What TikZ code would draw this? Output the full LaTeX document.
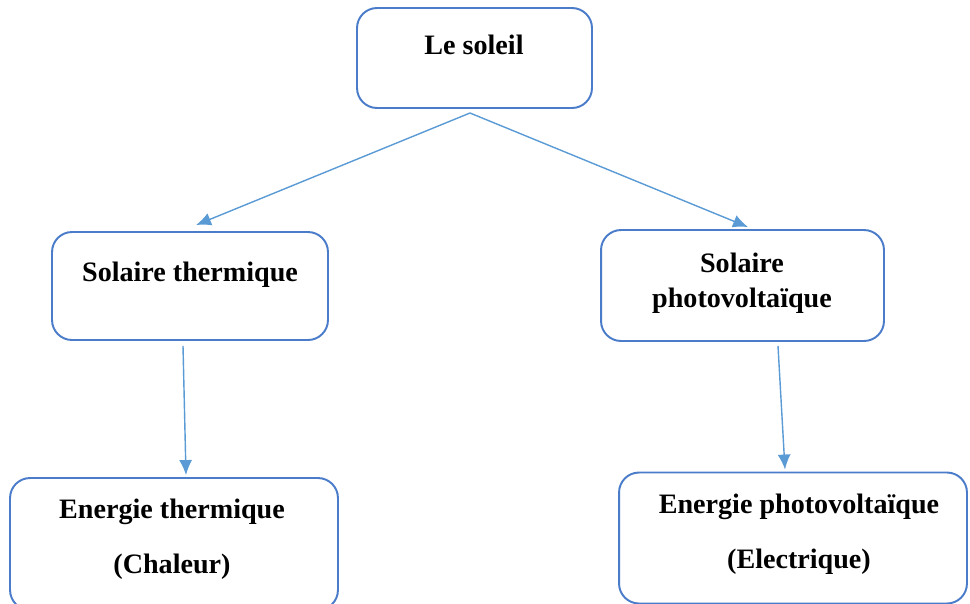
\documentclass[tikz,border=0pt]{standalone}
\usepackage{fontspec}
\setmainfont{Liberation Serif}
\usetikzlibrary{arrows.meta}
\definecolor{boxblue}{HTML}{4A7CC9}
\definecolor{arrblue}{HTML}{5B9BD5}
\tikzset{>={Latex[length=3mm,width=2.6mm]}}
\tikzset{
  box/.style={draw=boxblue, line width=1.1pt, rounded corners=4mm, fill=white},
  txt/.style={align=center, font=\fontsize{16}{20}\selectfont\bfseries},
  arr/.style={->, draw=arrblue, fill=arrblue, line width=0.8pt}
}

\begin{document}
\begin{tikzpicture}[x=0.02cm, y=-0.02cm]
        \useasboundingbox (0, 0) rectangle (970, 603);
        % boxes
        \node[box, minimum width=4.7cm, minimum height=2cm] (soleil) at (474.5, 58) {};
        \node[box, minimum width=5.52cm, minimum height=2.16cm] (sth) at (190, 286) {};
        \node[box, minimum width=5.66cm, minimum height=2.22cm] (spv) at (742.5, 285.5) {};
        \node[box, minimum width=6.56cm, minimum height=2.64cm] (eth) at (174, 544) {};
        \node[box, minimum width=6.96cm, minimum height=2.62cm] (epv) at (793, 538) {};
        % texts
        \node[txt] (tsoleil) at (474, 45) {Le soleil};
        \node[txt] (tsth) at (190, 275) {Solaire thermique};
        \node[txt] (tspv) at (742, 283) {Solaire\\photovoltaïque};
        \node[txt] (teth) at (172, 539) {Energie thermique\\[11pt](Chaleur)};
        \node[txt] (tepv) at (799, 534) {Energie photovoltaïque\\[11pt](Electrique)};
        % arrows
        \coordinate (fork) at (470, 113);
        \draw[arr] (fork) -- ([xshift=0.12cm,yshift=0.12cm]sth.north);
        \draw[arr] (fork) -- ([xshift=0.11cm,yshift=0.04cm]spv.north);
        \draw[arr] ([xshift=-0.14cm,yshift=-0.1cm]sth.south) -- ([xshift=0.24cm,yshift=0.04cm]eth.north);
        \draw[arr] ([xshift=0.71cm,yshift=-0.08cm]spv.south) -- ([xshift=-0.16cm,yshift=0.04cm]epv.north);
      \end{tikzpicture}
\end{document}
